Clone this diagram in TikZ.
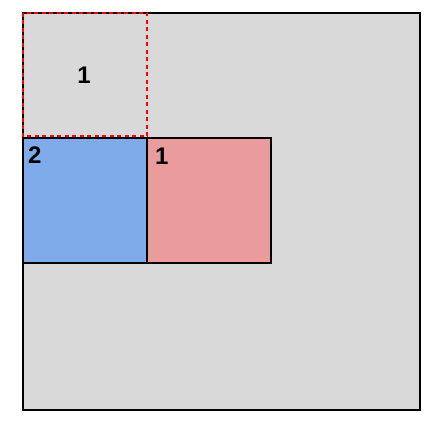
\documentclass[tikz,border=0pt]{standalone}
\usepackage{fontspec}
\setmainfont{Liberation Sans}
\begin{document}
\begin{tikzpicture}[x=1pt,y=-1pt,
  box/.style={draw=black,line width=2pt},
  lbl/.style={font=\bfseries\fontsize{24}{24}\selectfont,inner sep=0pt},
  reddash/.style={draw=red,line width=2pt,dash pattern=on 4pt off 3.5pt}]
\definecolor{bggray}{HTML}{D9D9D9}
\definecolor{bluebox}{HTML}{7FABEA}
\definecolor{pinkbox}{HTML}{EA9B9B}
\useasboundingbox (0,0) rectangle (438,427);
\draw[box,fill=bggray] (23,13) rectangle (420,410);
\draw[box,fill=bluebox] (23,138) rectangle (147,263);
\draw[box,fill=pinkbox] (147,138) rectangle (271,263);
\draw[reddash] (23,13) rectangle (147,136.5);
\node[lbl] (t1) at (84,75.5) {1};
\node[lbl,anchor=west] (t2) at (28,155.5) {2};
\node[lbl,anchor=west] (t3) at (155,156.5) {1};
\end{tikzpicture}
\end{document}
